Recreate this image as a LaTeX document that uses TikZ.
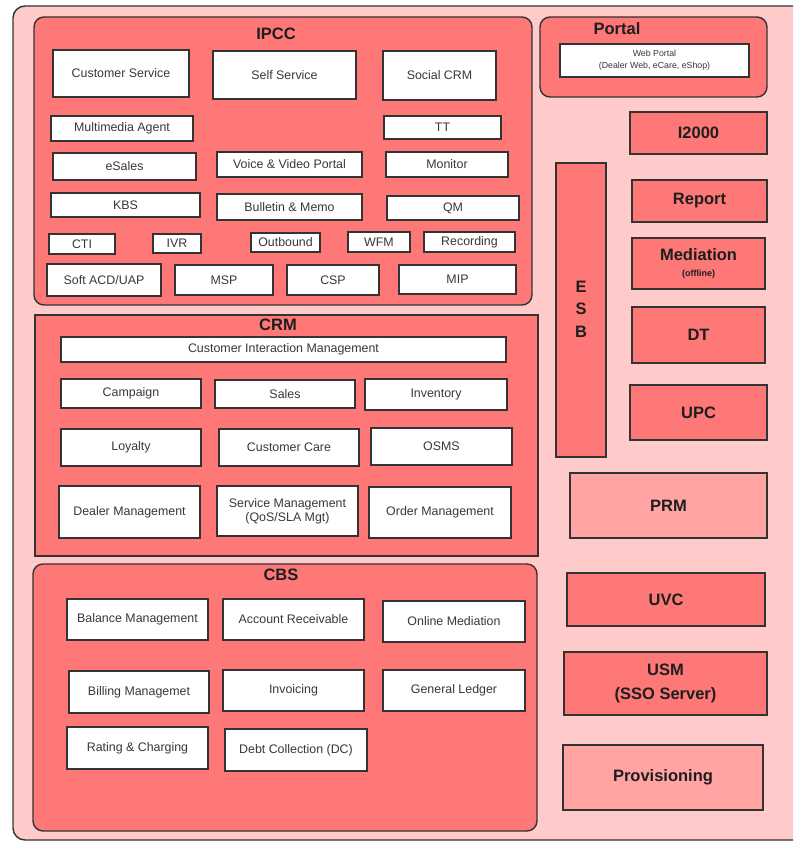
\documentclass[tikz,border=0pt]{standalone}
\usepackage{fontspec}
\setmainfont{Liberation Sans}
\definecolor{edge}{HTML}{333333}
\definecolor{paleRed}{HTML}{FFCACA}
\definecolor{midRed}{HTML}{FF7878}
\definecolor{softRed}{HTML}{FFA3A3}
\definecolor{labelGray}{HTML}{383838}
\definecolor{titleInk}{HTML}{1E1E1E}

% box from its pixel corners: style, name, x1, y1, x2, y2, text
\newcommand\modbox[7]{%
  \node[#1, minimum width={(#5-#3)*1pt}, minimum height={(#6-#4)*1pt}]
    (#2) at ({(#3+#5)/2},{(#4+#6)/2}) {#7};}

\begin{document}
\begin{tikzpicture}[x=1pt,y=-1pt,
  every node/.style={inner sep=0pt, outer sep=0pt},
  frame/.style={draw=edge, line width=1.4pt, fill=paleRed, rounded corners=12pt},
  group/.style={draw=edge, line width=1.4pt, fill=midRed, rounded corners=10pt},
  squaregroup/.style={draw=edge, line width=1.4pt, fill=midRed},
  title/.style={text=titleInk, font=\bfseries\fontsize{16.5}{19}\selectfont},
  item/.style={draw=edge, line width=1.3pt, fill=white, text=labelGray,
    align=center, font=\fontsize{12.4}{14}\selectfont},
  module/.style={draw=edge, line width=1.3pt, fill=midRed, text=titleInk,
    align=center, font=\bfseries\fontsize{16.5}{19}\selectfont},
  softmodule/.style={module, fill=softRed},
]
\useasboundingbox (0,0) rectangle (793,842);
\clip (0,0) rectangle (793,842);
\fill[white] (0,0) rectangle (793,842);

% outer frame (continues past the right edge)
\modbox{frame}{outer}{13}{6}{815}{840}{}

% ---------------- IPCC ----------------
\modbox{group}{ipcc}{34}{17}{532}{305}{}
\node[title] (ipccT) at (276,34) {IPCC};
\modbox{item}{cs}{53}{50}{189}{97}{Customer Service}
\modbox{item}{ss}{213}{51}{356}{99}{Self Service}
\modbox{item}{scrm}{383}{51}{496}{100}{Social CRM}
\modbox{item}{mma}{51}{116}{193}{141}{Multimedia Agent}
\modbox{item}{tt}{384}{116}{501}{139}{TT}
\modbox{item}{esales}{53}{153}{196}{180}{eSales}
\modbox{item}{vvp}{217}{152}{362}{177}{Voice \& Video Portal}
\modbox{item}{mon}{386}{152}{508}{177}{Monitor}
\modbox{item}{kbs}{51}{193}{200}{217}{KBS}
\modbox{item}{bm}{217}{194}{362}{220}{Bulletin \& Memo}
\modbox{item}{qm}{387}{196}{519}{220}{QM}
\modbox{item}{cti}{49}{234}{115}{254}{CTI}
\modbox{item}{ivr}{153}{234}{201}{253}{IVR}
\modbox{item}{outb}{251}{233}{320}{252}{Outbound}
\modbox{item}{wfm}{348}{232}{410}{252}{WFM}
\modbox{item}{rec}{424}{232}{515}{252}{Recording}
\modbox{item}{acd}{47}{264}{161}{296}{Soft ACD/UAP}
\modbox{item}{msp}{175}{265}{273}{295}{MSP}
\modbox{item}{csp}{287}{265}{379}{295}{CSP}
\modbox{item}{mip}{399}{265}{516}{294}{MIP}

% ---------------- CRM ----------------
\modbox{squaregroup}{crm}{35}{315}{538}{556}{}
\node[title] (crmT) at (278,325) {CRM};
\modbox{item}{cim}{61}{337}{506}{362}{Customer Interaction Management}
\modbox{item}{camp}{61}{379}{201}{408}{Campaign}
\modbox{item}{sales}{215}{380}{355}{408}{Sales}
\modbox{item}{inv}{365}{379}{507}{410}{Inventory}
\modbox{item}{loy}{61}{429}{201}{466}{Loyalty}
\modbox{item}{care}{219}{429}{359}{466}{Customer Care}
\modbox{item}{osms}{371}{428}{512}{465}{OSMS}
\modbox{item}{dealer}{59}{486}{200}{538}{Dealer Management}
\modbox{item}{svc}{217}{486}{358}{536}{Service Management\\(QoS/SLA Mgt)}
\modbox{item}{order}{369}{487}{511}{538}{Order Management}

% ---------------- CBS ----------------
\modbox{group}{cbs}{33}{564}{537}{831}{}
\node[title] (cbsT) at (281,575) {CBS};
\modbox{item}{bal}{67}{599}{208}{640}{Balance Management}
\modbox{item}{ar}{223}{599}{364}{640}{Account Receivable}
\modbox{item}{omed}{383}{601}{525}{642}{Online Mediation}
\modbox{item}{bill}{69}{671}{209}{713}{Billing Managemet}
\modbox{item}{invc}{223}{670}{364}{711}{Invoicing}
\modbox{item}{gl}{383}{670}{525}{711}{General Ledger}
\modbox{item}{rate}{67}{727}{208}{769}{Rating \& Charging}
\modbox{item}{debt}{225}{729}{367}{771}{Debt Collection (DC)}

% ---------------- Portal ----------------
\modbox{group}{portal}{540}{17}{767}{97}{}
\node[title] (portalT) at (617,29) {Portal};
\modbox{item, font=\fontsize{8.8}{12.3}\selectfont}{web}{560}{44}{749}{77}{Web Portal\\(Dealer Web, eCare, eShop)}

% ---------------- right-hand modules ----------------
\modbox{module, font=\bfseries\fontsize{16.5}{22.5}\selectfont}{esb}{556}{163}{606}{457}{}
\node[title, align=center, font=\bfseries\fontsize{16.5}{22.5}\selectfont] (esbT) at (581,309) {E\\S\\B};
\modbox{module}{i2000}{630}{112}{767}{154}{I2000}
\modbox{module}{report}{632}{180}{767}{222}{Report}
\modbox{module}{med}{632}{238}{765}{289}{Mediation\\[-3pt]{\fontsize{9}{10}\selectfont(offline)}}
\modbox{module}{dt}{632}{307}{765}{363}{DT}
\modbox{module}{upc}{630}{385}{767}{440}{UPC}
\modbox{softmodule}{prm}{570}{473}{767}{538}{PRM}
\modbox{module}{uvc}{567}{573}{765}{626}{UVC}
\modbox{module, font=\bfseries\fontsize{16.5}{24}\selectfont}{usm}{564}{652}{767}{715}{USM\\(SSO Server)}
\modbox{softmodule}{prov}{563}{745}{763}{810}{Provisioning}
\end{tikzpicture}
\end{document}
